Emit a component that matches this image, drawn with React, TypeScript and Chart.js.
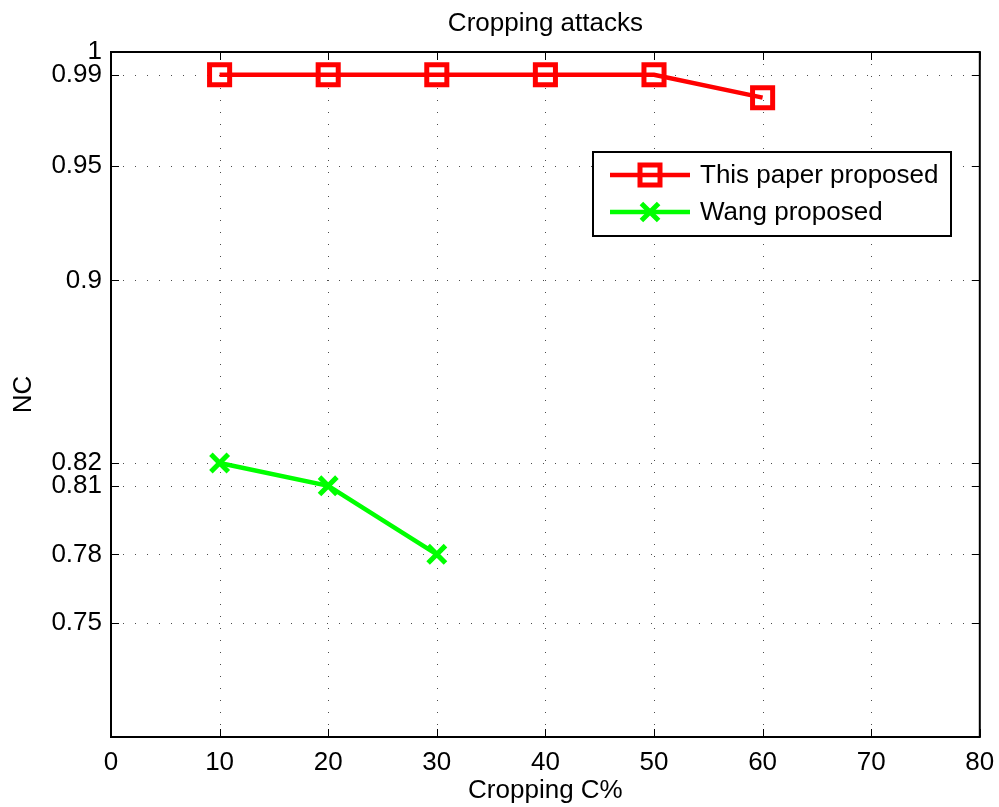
import React, { useEffect, useRef } from 'react';
import { Chart, registerables } from 'chart.js';

Chart.register(...registerables);

const FONT = '"Liberation Sans", Arial, Helvetica, sans-serif';
const FS = 26;

const chartTitle = 'Cropping attacks';
const xAxisTitle = 'Cropping C%';
const yAxisTitle = 'NC';

const proposedLabel = 'This paper proposed';
const proposedCropping = [10, 20, 30, 40, 50, 60];
const proposedNC = [0.99, 0.99, 0.99, 0.99, 0.99, 0.98];

const wangLabel = 'Wang proposed';
const wangCropping = [10, 20, 30];
const wangNC = [0.82, 0.81, 0.78];

const xTickValues = [0, 10, 20, 30, 40, 50, 60, 70, 80];
const yTickValues = [0.75, 0.78, 0.81, 0.82, 0.9, 0.95, 0.99, 1];

const RED = '#ff0000';
const GREEN = '#00ff00';

function drawSquare(ctx: CanvasRenderingContext2D, cx: number, cy: number, side: number, color: string, lw: number) {
  ctx.save();
  ctx.setLineDash([]);
  ctx.strokeStyle = color;
  ctx.lineWidth = lw;
  ctx.strokeRect(cx - side / 2, cy - side / 2, side, side);
  ctx.restore();
}

function drawX(ctx: CanvasRenderingContext2D, cx: number, cy: number, half: number, color: string, lw: number) {
  ctx.save();
  ctx.setLineDash([]);
  ctx.strokeStyle = color;
  ctx.lineWidth = lw;
  ctx.beginPath();
  ctx.moveTo(cx - half, cy - half);
  ctx.lineTo(cx + half, cy + half);
  ctx.moveTo(cx - half, cy + half);
  ctx.lineTo(cx + half, cy - half);
  ctx.stroke();
  ctx.restore();
}

const matlabFrame = {
  id: 'matlabFrame',
  beforeDatasetsDraw(chart: any) {
    const { ctx, chartArea, scales } = chart;
    const { left, right, top, bottom } = chartArea;
    const x = scales.x;
    const y = scales.y;
    ctx.save();
    ctx.strokeStyle = 'rgba(0,0,0,0.7)';
    ctx.lineWidth = 1;
    ctx.setLineDash([1, 11]);
    x.ticks.forEach((t: any) => {
      const px = Math.round(x.getPixelForValue(t.value)) + 0.5;
      if (px <= left + 2 || px >= right - 2) return;
      ctx.beginPath();
      ctx.moveTo(px, bottom);
      ctx.lineTo(px, top);
      ctx.stroke();
    });
    y.ticks.forEach((t: any) => {
      const py = Math.round(y.getPixelForValue(t.value)) + 0.5;
      if (py <= top + 2 || py >= bottom - 2) return;
      ctx.beginPath();
      ctx.moveTo(left, py);
      ctx.lineTo(right, py);
      ctx.stroke();
    });
    ctx.restore();
  },
  afterDatasetsDraw(chart: any) {
    const { ctx, chartArea, scales } = chart;
    const { left, right, top, bottom } = chartArea;
    const x = scales.x;
    const y = scales.y;
    const tl = 8;
    ctx.save();
    ctx.setLineDash([]);
    ctx.strokeStyle = '#000';
    ctx.lineWidth = 1;
    x.ticks.forEach((t: any) => {
      const px = Math.round(x.getPixelForValue(t.value)) + 0.5;
      ctx.beginPath();
      ctx.moveTo(px, bottom);
      ctx.lineTo(px, bottom - tl);
      ctx.moveTo(px, top);
      ctx.lineTo(px, top + tl);
      ctx.stroke();
    });
    y.ticks.forEach((t: any) => {
      const py = Math.round(y.getPixelForValue(t.value)) + 0.5;
      ctx.beginPath();
      ctx.moveTo(left, py);
      ctx.lineTo(left + tl, py);
      ctx.moveTo(right, py);
      ctx.lineTo(right - tl, py);
      ctx.stroke();
    });
    ctx.lineWidth = 2;
    ctx.strokeRect(left, top, right - left, bottom - top);

    // legend
    const bx = 593, by = 152, bw = 358, bh = 84;
    ctx.fillStyle = '#fff';
    ctx.fillRect(bx, by, bw, bh);
    ctx.lineWidth = 2;
    ctx.strokeStyle = '#000';
    ctx.strokeRect(bx, by, bw, bh);
    const rows = [175, 212];
    chart.data.datasets.forEach((ds: any, i: number) => {
      const ry = rows[i];
      ctx.strokeStyle = ds.borderColor;
      ctx.lineWidth = ds.borderWidth;
      ctx.beginPath();
      ctx.moveTo(610, ry);
      ctx.lineTo(690, ry);
      ctx.stroke();
      if (ds.pointStyle === 'rect') drawSquare(ctx, 650, ry, 20, ds.borderColor, 5);
      else drawX(ctx, 650, ry, 8.6, ds.borderColor, 5);
      ctx.fillStyle = '#000';
      ctx.font = `${FS}px ${FONT}`;
      ctx.textBaseline = 'middle';
      ctx.textAlign = 'left';
      ctx.fillText(ds.label, 700, ry + 1);
    });
    ctx.restore();
  },
};

export default function App() {
  const canvasRef = useRef<HTMLCanvasElement | null>(null);

  useEffect(() => {
    const canvas = canvasRef.current;
    if (!canvas) return;
    const chart = new Chart(canvas, {
      type: 'line',
      data: {
        datasets: [
          {
            label: proposedLabel,
            data: proposedCropping.map((c, i) => ({ x: c, y: proposedNC[i] })),
            borderColor: RED,
            backgroundColor: 'transparent',
            borderWidth: 4.5,
            pointStyle: 'rect',
            pointRadius: 14.2,
            pointBorderWidth: 5,
            pointBorderColor: RED,
            pointBackgroundColor: 'transparent',
            tension: 0,
          },
          {
            label: wangLabel,
            data: wangCropping.map((c, i) => ({ x: c, y: wangNC[i] })),
            borderColor: GREEN,
            backgroundColor: 'transparent',
            borderWidth: 4.5,
            pointStyle: 'crossRot',
            pointRadius: 12.3,
            pointBorderWidth: 5,
            pointBorderColor: GREEN,
            pointBackgroundColor: 'transparent',
            tension: 0,
          },
        ],
      },
      options: {
        animation: false,
        responsive: false,
        devicePixelRatio: 1,
        layout: { padding: { top: 0, right: 19, bottom: 0, left: 0 } },
        plugins: {
          legend: { display: false },
          tooltip: { enabled: false },
          title: {
            display: true,
            fullSize: false,
            text: chartTitle,
            color: '#000',
            font: { family: FONT, size: FS, weight: 'normal', lineHeight: 1.2 },
            padding: { top: 8, bottom: 12.8 },
          },
        },
        scales: {
          x: {
            type: 'linear',
            min: 0,
            max: 80,
            afterBuildTicks: (scale: any) => {
              scale.ticks = xTickValues.map((v) => ({ value: v }));
            },
            afterFit: (scale: any) => {
              scale.height = 70;
              scale.paddingLeft = 0;
              scale.paddingRight = 0;
            },
            grid: { display: false, drawTicks: false },
            border: { display: false },
            ticks: {
              color: '#000',
              font: { family: FONT, size: FS },
              padding: 10,
              maxRotation: 0,
              autoSkip: false,
              callback: (v: any) => String(v),
            },
            title: {
              display: true,
              text: xAxisTitle,
              color: '#000',
              font: { family: FONT, size: FS },
              padding: { top: 0, bottom: 0.5 },
            },
          },
          y: {
            type: 'linear',
            min: 0.7,
            max: 1,
            afterBuildTicks: (scale: any) => {
              scale.ticks = yTickValues.map((v) => ({ value: v }));
            },
            afterFit: (scale: any) => {
              scale.width = 111;
              scale.paddingTop = 0;
              scale.paddingBottom = 0;
            },
            grid: { display: false, drawTicks: false },
            border: { display: false },
            ticks: {
              color: '#000',
              font: { family: FONT, size: FS },
              padding: 9,
              autoSkip: false,
              callback: (v: any) => String(v),
            },
            title: {
              display: true,
              text: yAxisTitle,
              color: '#000',
              font: { family: FONT, size: FS },
              padding: { top: 8, bottom: 0 },
            },
          },
        },
      },
      plugins: [matlabFrame],
    } as any);
    return () => chart.destroy();
  }, []);

  return (
    <div style={{ position: 'fixed', left: 0, top: 0, width: 999, height: 807, background: '#fff' }}>
      <canvas ref={canvasRef} width={999} height={807} style={{ display: 'block' }} />
    </div>
  );
}
